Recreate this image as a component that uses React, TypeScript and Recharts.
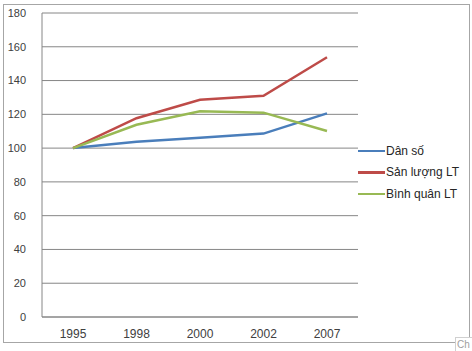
import { LineChart, Line, XAxis, YAxis, CartesianGrid, Legend } from 'recharts'

const years = ['1995', '1998', '2000', '2002', '2007']
const danSo = [100, 103.8, 106.2, 108.6, 120.6]
const sanLuong = [100, 117.7, 128.6, 131.0, 153.8]
const binhQuan = [100, 113.8, 121.8, 121.0, 110.1]
const yTicks = [0, 20, 40, 60, 80, 100, 120, 140, 160, 180]

const seriesInfo = [
  { key: 'danSo', name: 'Dân số', color: '#4a7ebb' },
  { key: 'sanLuong', name: 'Sản lượng LT', color: '#be4b48' },
  { key: 'binhQuan', name: 'Bình quân LT', color: '#98b954' },
]

const data = years.map((y, i) => ({
  year: y,
  danSo: danSo[i],
  sanLuong: sanLuong[i],
  binhQuan: binhQuan[i],
}))

const font = '"Liberation Sans", Arial, sans-serif'
const axisColor = '#868686'

function SideLegend() {
  return (
    <div style={{ fontFamily: font, fontSize: 12, color: '#262626' }}>
      {seriesInfo.map(s => (
        <div key={s.key} style={{ display: 'flex', alignItems: 'center', height: 21.5 }}>
          <div style={{ width: 27, height: 2.5, background: s.color, marginRight: 1 }} />
          <span>{s.name}</span>
        </div>
      ))}
    </div>
  )
}

export default function App() {
  return (
    <div style={{ position: 'absolute', left: 0, top: 0, width: 472, height: 351, background: '#fff' }}>
      <div style={{
        position: 'absolute', left: 3, top: 4, width: 465, height: 337,
        border: '1px solid #a6a6a6'
      }} />
      <div style={{ position: 'absolute', left: 0, top: 0 }}>
        <LineChart width={472} height={351} data={data} margin={{ top: 13, right: 114, bottom: 0, left: 0 }}>
          <CartesianGrid vertical={false} stroke={axisColor} strokeWidth={1} />
          <XAxis
            dataKey="year"
            height={34}
            padding={{ left: 31, right: 31 }}
            tickLine={false}
            tickMargin={6}
            axisLine={{ stroke: axisColor }}
            tick={{ fill: '#404040', fontSize: 12, fontFamily: font }}
          />
          <YAxis
            width={42}
            domain={[0, 180]}
            ticks={yTicks}
            tickLine={false}
            tickMargin={10}
            axisLine={{ stroke: axisColor }}
            tick={{ fill: '#404040', fontSize: 11, fontFamily: font }}
          />
          <Legend
            layout="vertical"
            align="center"
            verticalAlign="middle"
            content={<SideLegend />}
            wrapperStyle={{ left: 358, top: 140, width: 110 }}
          />
          {seriesInfo.map(s => (
            <Line
              key={s.key}
              type="linear"
              dataKey={s.key}
              name={s.name}
              stroke={s.color}
              strokeWidth={2.5}
              dot={false}
              activeDot={false}
              isAnimationActive={false}
            />
          ))}
        </LineChart>
      </div>
      <div style={{
        position: 'absolute', left: 455, top: 337, width: 17, height: 14,
        border: '1px solid #d0d0d0', borderRight: 'none', background: '#fff', overflow: 'hidden',
        fontFamily: font, fontSize: 10, color: '#a0a0a0', lineHeight: '14px', paddingLeft: 1
      }}>Ch</div>
    </div>
  )
}
